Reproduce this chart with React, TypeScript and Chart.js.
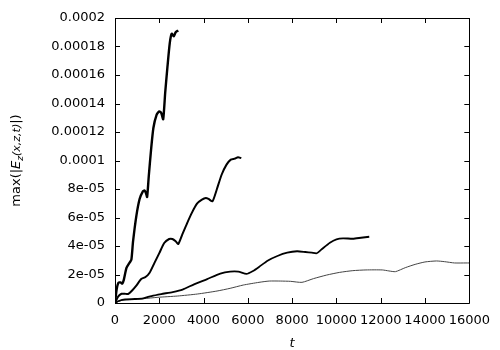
import React, { useEffect, useRef } from "react";
import { Chart, registerables } from "chart.js";

Chart.register(...registerables);

const xTickLabels = ["0", "2000", "4000", "6000", "8000", "10000", "12000", "14000", "16000"];
const yTickLabels = ["0", "2e-05", "4e-05", "6e-05", "8e-05", "0.0001", "0.00012", "0.00014", "0.00016", "0.00018", "0.0002"];

const t1 = [0, 74, 148, 252, 330, 400, 518, 666, 740, 814, 963, 1111, 1259, 1333, 1400, 1451, 1525, 1629, 1733, 1881, 2000, 2088, 2177, 2266, 2370, 2473, 2562, 2651, 2740, 2858];
const v1 = [0, 9.4e-6, 1.4e-5, 1.45e-5, 1.36e-5, 1.64e-5, 2.46e-5, 2.85e-5, 3.04e-5, 4.3e-5, 6.1e-5, 7.3e-5, 7.84e-5, 7.9e-5, 7.7e-5, 7.44e-5, 8.9e-5, 1.076e-4, 1.228e-4, 1.322e-4, 1.345e-4, 1.333e-4, 1.29e-4, 1.474e-4, 1.66e-4, 1.824e-4, 1.89e-4, 1.871e-4, 1.9e-4, 1.913e-4];

const t2 = [0, 148, 296, 444, 592, 740, 963, 1185, 1377, 1555, 1777, 2000, 2222, 2444, 2592, 2740, 2858, 3036, 3258, 3481, 3703, 3925, 4103, 4222, 4400, 4592, 4814, 5036, 5229, 5407, 5555, 5703];
const v2 = [0, 4.7e-6, 6.5e-6, 6.5e-6, 6.3e-6, 8.2e-6, 1.22e-5, 1.68e-5, 1.82e-5, 2.1e-5, 2.8e-5, 3.5e-5, 4.21e-5, 4.49e-5, 4.49e-5, 4.33e-5, 4.14e-5, 4.8e-5, 5.61e-5, 6.36e-5, 6.97e-5, 7.25e-5, 7.37e-5, 7.3e-5, 7.13e-5, 7.95e-5, 9.0e-5, 9.71e-5, 1.006e-4, 1.013e-4, 1.023e-4, 1.017e-4];

const t3 = [0, 163, 459, 903, 1274, 1644, 2088, 2607, 3051, 3570, 4162, 4755, 5199, 5570, 5940, 6236, 6503, 6889, 7333, 7777, 8222, 8592, 8888, 9110, 9333, 9703, 10000, 10296, 10740, 11110, 11481];
const v3 = [0, 1.4e-6, 2.6e-6, 2.8e-6, 3.3e-6, 4.9e-6, 6.3e-6, 7.7e-6, 9.4e-6, 1.31e-5, 1.68e-5, 2.06e-5, 2.2e-5, 2.2e-5, 2.04e-5, 2.25e-5, 2.53e-5, 2.97e-5, 3.3e-5, 3.53e-5, 3.63e-5, 3.58e-5, 3.53e-5, 3.49e-5, 3.77e-5, 4.23e-5, 4.47e-5, 4.54e-5, 4.51e-5, 4.58e-5, 4.65e-5];

const t4 = [0, 311, 755, 1274, 1940, 2829, 3718, 4607, 5199, 5792, 6503, 6963, 7481, 7925, 8444, 8962, 9555, 10147, 10740, 11332, 12072, 12368, 12665, 13109, 13553, 13997, 14516, 14886, 15330, 15849, 16000];
const v4 = [0, 1.9e-6, 2.3e-6, 3.0e-6, 4.0e-6, 4.9e-6, 6.3e-6, 8.4e-6, 1.03e-5, 1.26e-5, 1.45e-5, 1.54e-5, 1.54e-5, 1.52e-5, 1.45e-5, 1.71e-5, 1.96e-5, 2.15e-5, 2.27e-5, 2.32e-5, 2.32e-5, 2.25e-5, 2.2e-5, 2.48e-5, 2.71e-5, 2.88e-5, 2.95e-5, 2.9e-5, 2.81e-5, 2.81e-5, 2.81e-5];

const FONT = "'DejaVu Sans', sans-serif";

function pts(t: number[], v: number[]) {
  return t.map((x, i) => ({ x, y: v[i] }));
}

const framePlugin = {
  id: "frame",
  afterDatasetsDraw(chart: any) {
    const { ctx, chartArea: a, scales } = chart;
    const tl = 5;
    ctx.save();
    ctx.strokeStyle = "#000";
    ctx.lineWidth = 1;
    ctx.beginPath();
    ctx.rect(Math.round(a.left) + 0.5, Math.round(a.top) + 0.5, Math.round(a.right - a.left), Math.round(a.bottom - a.top));
    ctx.stroke();
    ctx.beginPath();
    scales.x.ticks.forEach((tk: any) => {
      const px = Math.round(scales.x.getPixelForValue(tk.value)) + 0.5;
      ctx.moveTo(px, a.bottom);
      ctx.lineTo(px, a.bottom - tl);
      ctx.moveTo(px, a.top);
      ctx.lineTo(px, a.top + tl);
    });
    scales.y.ticks.forEach((tk: any) => {
      const py = Math.round(scales.y.getPixelForValue(tk.value)) + 0.5;
      ctx.moveTo(a.left, py);
      ctx.lineTo(a.left + tl, py);
      ctx.moveTo(a.right, py);
      ctx.lineTo(a.right - tl, py);
    });
    ctx.stroke();

    // x-axis title
    ctx.fillStyle = "#000";
    ctx.font = `italic 13px ${FONT}`;
    ctx.textAlign = "center";
    ctx.textBaseline = "alphabetic";
    ctx.fillText("t", (a.left + a.right) / 2, 347);

    // y-axis title with subscript
    const segs = [
      { text: "max(|", font: `13px ${FONT}`, dy: 0 },
      { text: "E", font: `italic 13px ${FONT}`, dy: 0 },
      { text: "z", font: `italic 9px ${FONT}`, dy: 3 },
      { text: "(x,z,t)", font: `italic 11px ${FONT}`, dy: 0 },
      { text: "|)", font: `13px ${FONT}`, dy: 0 },
    ];
    let total = 0;
    segs.forEach((s) => {
      ctx.font = s.font;
      total += ctx.measureText(s.text).width;
    });
    ctx.translate(20, (a.top + a.bottom) / 2);
    ctx.rotate(-Math.PI / 2);
    ctx.textAlign = "left";
    let x = -total / 2;
    segs.forEach((s) => {
      ctx.font = s.font;
      ctx.fillText(s.text, x, s.dy);
      x += ctx.measureText(s.text).width;
    });
    ctx.restore();
  },
};

export default function App() {
  const ref = useRef<HTMLCanvasElement | null>(null);
  useEffect(() => {
    if (!ref.current) return;
    const chart = new Chart(ref.current, {
      type: "line",
      data: {
        datasets: [
          { data: pts(t1, v1), borderColor: "#000", borderWidth: 2.4, pointRadius: 0, tension: 0.2 },
          { data: pts(t2, v2), borderColor: "#000", borderWidth: 2, pointRadius: 0, tension: 0.2 },
          { data: pts(t3, v3), borderColor: "#000", borderWidth: 1.8, pointRadius: 0, tension: 0.2 },
          { data: pts(t4, v4), borderColor: "#444", borderWidth: 1, pointRadius: 0, tension: 0.2 },
        ],
      },
      options: {
        animation: false,
        responsive: false,
        devicePixelRatio: 1,
        layout: { padding: { top: 18, right: 26, left: 0, bottom: 0 } },
        plugins: { legend: { display: false }, tooltip: { enabled: false } },
        scales: {
          x: {
            type: "linear",
            min: 0,
            max: 16000,
            grid: { display: false, drawTicks: false },
            border: { display: false },
            ticks: {
              stepSize: 2000,
              maxRotation: 0,
              autoSkip: false,
              padding: 10,
              color: "#000",
              font: { family: FONT, size: 13 },
              callback: (_v: any, i: number) => xTickLabels[i],
            },
            afterFit: (s: any) => {
              s.height = 47;
            },
          },
          y: {
            type: "linear",
            min: 0,
            max: 0.0002,
            grid: { display: false, drawTicks: false },
            border: { display: false },
            ticks: {
              stepSize: 0.00002,
              autoSkip: false,
              padding: 10,
              color: "#000",
              font: { family: FONT, size: 13 },
              callback: (_v: any, i: number) => yTickLabels[i],
            },
            afterFit: (s: any) => {
              s.width = 115;
            },
          },
        },
      },
      plugins: [framePlugin],
    });
    return () => chart.destroy();
  }, []);
  return (
    <div style={{ position: "absolute", left: 0, top: 0, width: 500, height: 350, background: "#fff" }}>
      <canvas ref={ref} width={500} height={350} style={{ width: 500, height: 350 }} />
    </div>
  );
}
